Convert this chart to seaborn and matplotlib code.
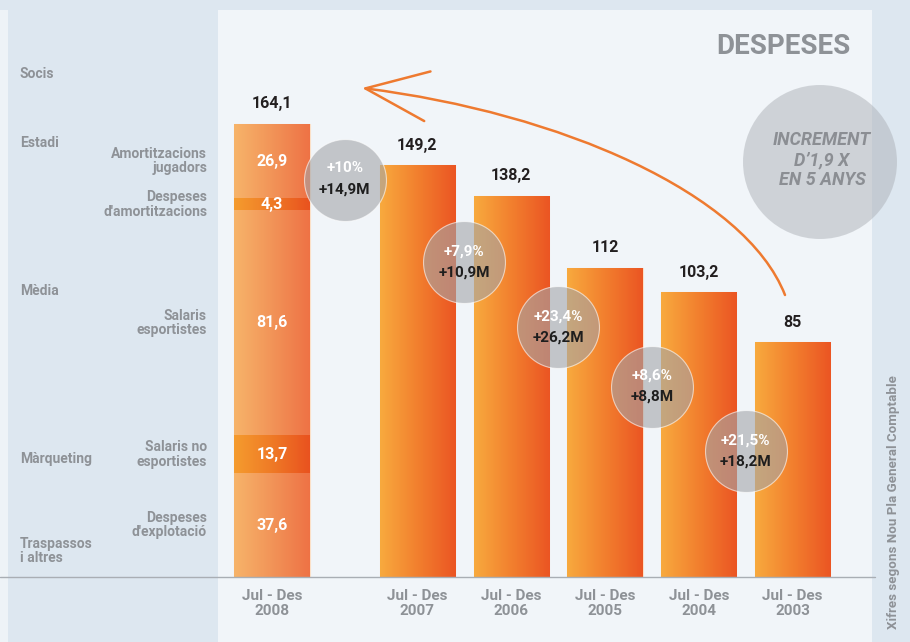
import numpy as np
import pandas as pd
import matplotlib
matplotlib.use("Agg")
import matplotlib.pyplot as plt
import matplotlib.transforms as mtransforms
from matplotlib.colors import LinearSegmentedColormap
from matplotlib.patches import Rectangle, Ellipse, FancyArrowPatch
from matplotlib.path import Path
from matplotlib.lines import Line2D
import seaborn as sns

# data
periods = ["2008", "2007", "2006", "2005", "2004", "2003"]
totals = [164.1, 149.2, 138.2, 112, 103.2, 85]
segment_names = ["Despeses\nd'explotació", "Salaris no\nesportistes", "Salaris\nesportistes",
                 "Despeses\nd'amortitzacions", "Amortitzacions\njugadors"]
segment_values = [37.6, 13.7, 81.6, 4.3, 26.9]
pct_change = [10, 7.9, 23.4, 8.6, 21.5]
abs_change = [14.9, 10.9, 26.2, 8.8, 18.2]
income_labels = ["Socis", "Estadi", "Mèdia", "Màrqueting", "Traspassos\ni altres"]

# layout
bar_pos = [0, 1.55, 2.55, 3.55, 4.55, 5.55]
circle_y = [144, 114, 90.5, 69, 45.5]
income_y_px = [74, 143, 291, 459, 551]
band_dark = [False, True, False, True, False]

W, H = 910, 642
GREY = "#8e9297"


def fx(x):
    return x / W


def fy(y):
    return 1 - y / H


def fmt(v):
    return f"{v:g}".replace(".", ",")


sns.set_theme(style="white")
plt.rcParams["font.family"] = ["Roboto", "DejaVu Sans"]

fig = plt.figure(figsize=(9.1, 6.42), dpi=100)
fig.patch.set_facecolor("#dde7f0")

# background panels
fig.add_artist(Rectangle((fx(218), 0), fx(654), fy(10), transform=fig.transFigure,
                         facecolor="#f1f5f9", edgecolor="none", zorder=-10))
fig.add_artist(Rectangle((0, 0), fx(8), fy(10), transform=fig.transFigure,
                         facecolor="#eef3f7", edgecolor="none", zorder=-10))

ax = fig.add_axes([fx(218), 65 / H, fx(654), 567 / H])
ax.set_facecolor("none")


def grad_fill(patch, colors, z):
    x, y = patch.get_x(), patch.get_y()
    w, h = patch.get_width(), patch.get_height()
    cmap = LinearSegmentedColormap.from_list("g", colors)
    img = np.linspace(0, 1, 256).reshape(1, -1)
    im = ax.imshow(img, extent=[x, x + w, y, y + h], aspect="auto", cmap=cmap,
                   zorder=z, interpolation="bicubic")
    im.set_clip_path(patch)


# main bars
df = pd.DataFrame({"pos": bar_pos, "total": totals, "period": periods})
sns.barplot(data=df, x="pos", y="total", native_scale=True, orient="x", width=0.8,
            color="#f27d2c", edgecolor="#fbe0c8", linewidth=0.8, ax=ax, zorder=2)
bar_patches = list(ax.patches)
for i, p in enumerate(bar_patches):
    if i == 0:
        grad_fill(p, ["#f7b46a", "#f29458", "#ee7245"], 2.1)
    else:
        grad_fill(p, ["#f8aa3e", "#f27f2e", "#eb5523"], 2.1)

# 2008 breakdown, drawn as overlapping cumulative bars
cum = np.cumsum(segment_values)
z = 2.2
for k in range(len(cum) - 1, -1, -1):
    n0 = len(ax.patches)
    sns.barplot(x=[bar_pos[0]], y=[cum[k]], native_scale=True, orient="x", width=0.8,
                color="#f29458", linewidth=0, ax=ax, zorder=z)
    p = ax.patches[n0]
    if band_dark[k]:
        grad_fill(p, ["#f59c2e", "#ef7a26", "#e9521f"], z + 0.05)
    else:
        grad_fill(p, ["#f7b46a", "#f29458", "#ee7245"], z + 0.05)
    z += 0.1

# labels above bars
for x, v in zip(bar_pos, totals):
    ax.annotate(fmt(v), (x, v), xytext=(0, 14.5), textcoords="offset points",
                ha="center", va="center", fontsize=11.5, weight="bold", color="#231f20", zorder=6)

# segment values and names
name_tr = mtransforms.blended_transform_factory(fig.transFigure, ax.transData)
for name, v, c in zip(segment_names, segment_values, cum):
    mid = c - v / 2
    ax.text(bar_pos[0], mid, fmt(v), ha="center", va="center", fontsize=11.5,
            weight="bold", color="white", zorder=6)
    fig.text(fx(207), mid, name, transform=name_tr, ha="right", va="center",
             fontsize=10, weight="bold", color=GREY, linespacing=1.05)

for lab, y in zip(income_labels, income_y_px):
    fig.text(fx(20), fy(y), lab, ha="left", va="center", fontsize=10,
             weight="bold", color=GREY, linespacing=1.05)

# change circles between bars
circle_x = [(a + b) / 2 for a, b in zip(bar_pos[:-1], bar_pos[1:])]
sns.scatterplot(x=circle_x, y=circle_y, s=3481, color="#a3a5a9", alpha=0.6,
                edgecolor="white", linewidth=0.8, ax=ax, zorder=5, legend=False)
for x, y, pc, ab in zip(circle_x, circle_y, pct_change, abs_change):
    ax.annotate(f"+{fmt(pc)}%", (x, y), xytext=(0, 8), textcoords="offset points",
                ha="center", va="center", fontsize=11, weight="bold", color="white", zorder=6)
    ax.annotate(f"+{fmt(ab)}M", (x, y), xytext=(0, -7.5), textcoords="offset points",
                ha="center", va="center", fontsize=11, weight="bold", color="#1e1e1e", zorder=6)

ax.set_xlim(-54 / 93.8, 600 / 93.8)
ax.set_ylim(0, 567 / 2.76)
ax.set_xticks(bar_pos)
ax.set_xticklabels([f"Jul - Des\n{p}" for p in periods], fontsize=11, weight="bold",
                   color=GREY, linespacing=1.05)
ax.tick_params(axis="x", length=0, pad=9)
ax.set_yticks([])
ax.set_xlabel("")
ax.set_ylabel("")
for s in ax.spines.values():
    s.set_visible(False)

# baseline
fig.add_artist(Line2D([0, fx(875)], [65 / H, 65 / H], color="#a9aeb4", lw=1,
                      transform=fig.transFigure, zorder=1))

# title and growth note
fig.text(fx(851), fy(47), "DESPESES", ha="right", va="center", fontsize=20,
         weight="bold", color=GREY)
fig.add_artist(Ellipse((fx(820), fy(162)), 154 / W, 154 / H, transform=fig.transFigure,
                       facecolor="#adb1b7", edgecolor="none", alpha=0.5, zorder=1))
fig.text(fx(822), fy(160), "INCREMENT\nD’1,9 X\nEN 5 ANYS", ha="center", va="center",
         fontsize=13, weight="bold", style="italic", color="#8b8e93", linespacing=1.15,
         zorder=2)

# curved arrow
verts = [(fx(785), fy(295)), (fx(745), fy(193)), (fx(560), fy(113)), (fx(362), fy(88))]
arrow_path = Path(verts, [Path.MOVETO, Path.CURVE4, Path.CURVE4, Path.CURVE4])
fig.add_artist(FancyArrowPatch(path=arrow_path, arrowstyle="->,head_length=4.5,head_width=1.8",
                               mutation_scale=10, color="#ee7a30", lw=1.8,
                               transform=fig.transFigure, zorder=2))

fig.text(fx(893), fy(502), "Xifres segons Nou Pla General Comptable", rotation=90,
         ha="center", va="center", fontsize=9.6, weight="bold", color=GREY)

fig.savefig("out.png", dpi=100)
